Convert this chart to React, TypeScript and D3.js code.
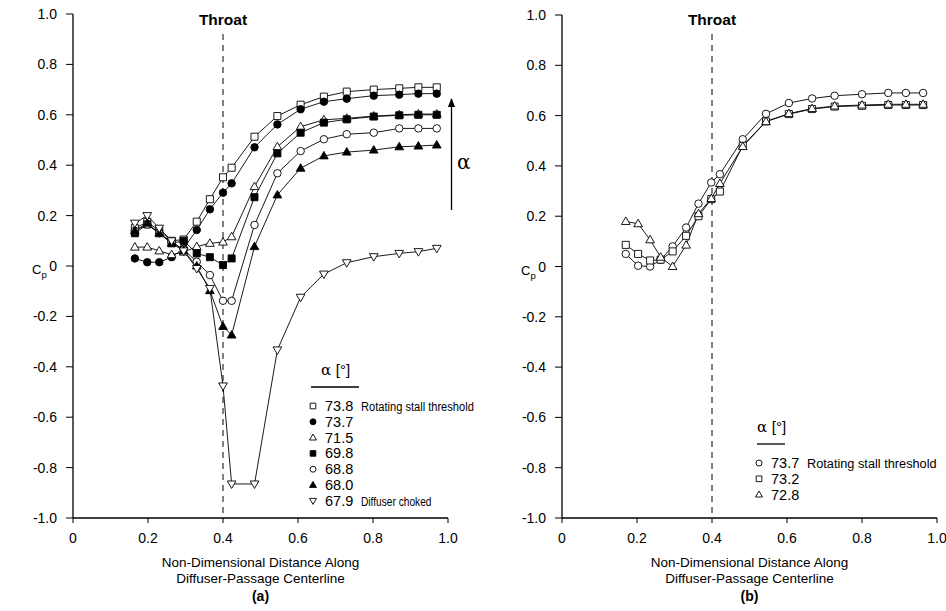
import React from "react";
import * as d3 from "d3";

// ---------- Data ----------
const xTicks = [0, 0.2, 0.4, 0.6, 0.8, 1.0];
const xTickLabels = ["0", "0.2", "0.4", "0.6", "0.8", "1.0"];
const yTicks = [1.0, 0.8, 0.6, 0.4, 0.2, 0, -0.2, -0.4, -0.6, -0.8, -1.0];
const yTickLabels = ["1.0", "0.8", "0.6", "0.4", "0.2", "0", "-0.2", "-0.4", "-0.6", "-0.8", "-1.0"];

const xA = [0.165, 0.198, 0.23, 0.263, 0.295, 0.33, 0.365, 0.4, 0.423, 0.484, 0.545, 0.607, 0.669, 0.73, 0.802, 0.87, 0.921, 0.97];

const a738 = [0.15, 0.175, 0.14, 0.1, 0.105, 0.176, 0.265, 0.352, 0.39, 0.513, 0.595, 0.64, 0.672, 0.692, 0.7, 0.705, 0.709, 0.709];
const a737 = [0.03, 0.015, 0.015, 0.035, 0.07, 0.143, 0.225, 0.291, 0.328, 0.471, 0.562, 0.622, 0.652, 0.664, 0.676, 0.68, 0.684, 0.684];
const a715 = [0.075, 0.075, 0.06, 0.045, 0.055, 0.077, 0.09, 0.095, 0.116, 0.315, 0.473, 0.553, 0.58, 0.586, 0.595, 0.6, 0.603, 0.603];
const a698 = [0.13, 0.165, 0.13, 0.09, 0.1, 0.05, 0.035, 0.004, 0.03, 0.273, 0.447, 0.529, 0.569, 0.582, 0.593, 0.598, 0.6, 0.6];
const a688 = [0.14, 0.165, 0.13, 0.095, 0.065, 0.017, -0.036, -0.138, -0.138, 0.163, 0.368, 0.456, 0.503, 0.523, 0.529, 0.546, 0.546, 0.546];
const a680 = [0.14, 0.17, 0.13, 0.09, 0.06, 0.0, -0.098, -0.24, -0.274, 0.077, 0.282, 0.388, 0.437, 0.452, 0.46, 0.473, 0.476, 0.48];
const a679 = [0.17, 0.2, 0.15, 0.1, 0.06, -0.01, -0.089, -0.476, -0.865, -0.865, -0.333, -0.124, -0.032, 0.013, 0.037, 0.05, 0.057, 0.07];

const xB = [0.17, 0.203, 0.235, 0.263, 0.295, 0.331, 0.364, 0.398, 0.421, 0.482, 0.544, 0.605, 0.667, 0.727, 0.8, 0.87, 0.917, 0.963];
const b737 = [0.05, 0.003, 0.0, 0.027, 0.08, 0.155, 0.25, 0.334, 0.367, 0.506, 0.607, 0.65, 0.668, 0.679, 0.685, 0.69, 0.69, 0.69];
const b732 = [0.086, 0.05, 0.024, 0.027, 0.06, 0.122, 0.2, 0.268, 0.298, 0.48, 0.577, 0.606, 0.626, 0.636, 0.639, 0.642, 0.642, 0.642];
const b728 = [0.179, 0.17, 0.106, 0.037, 0.0, 0.085, 0.21, 0.27, 0.33, 0.477, 0.576, 0.608, 0.628, 0.638, 0.642, 0.645, 0.645, 0.645];

const legendA = [
  { num: "73.8", note: "Rotating stall threshold", sym: "square", fill: false, vals: a738 },
  { num: "73.7", note: "", sym: "circle", fill: true, vals: a737 },
  { num: "71.5", note: "", sym: "triangle", fill: false, vals: a715 },
  { num: "69.8", note: "", sym: "square", fill: true, vals: a698 },
  { num: "68.8", note: "", sym: "circle", fill: false, vals: a688 },
  { num: "68.0", note: "", sym: "triangle", fill: true, vals: a680 },
  { num: "67.9", note: "Diffuser choked", sym: "tridown", fill: false, vals: a679 },
];
const legendB = [
  { num: "73.7", note: "Rotating stall threshold", sym: "circle", fill: false, vals: b737 },
  { num: "73.2", note: "", sym: "square", fill: false, vals: b732 },
  { num: "72.8", note: "", sym: "triangle", fill: false, vals: b728 },
];

const FONT = "'Liberation Sans', Arial, Helvetica, sans-serif";

function markerPath(sym: string, s: number) {
  if (sym === "square") {
    const h = s * 0.47;
    return `M${-h},${-h}H${h}V${h}H${-h}Z`;
  }
  if (sym === "circle") {
    const r = s * 0.5;
    return `M${r},0A${r},${r} 0 1,1 ${-r},0A${r},${r} 0 1,1 ${r},0Z`;
  }
  const w = s * 0.58;
  const hgt = s * 1.0;
  if (sym === "triangle") {
    return `M0,${-hgt * 0.6}L${w},${hgt * 0.4}L${-w},${hgt * 0.4}Z`;
  }
  return `M0,${hgt * 0.6}L${w},${-hgt * 0.4}L${-w},${-hgt * 0.4}Z`;
}

function Marker({ x, y, sym, fill, size }: any) {
  return (
    <path
      d={markerPath(sym, size)}
      transform={`translate(${x},${y})`}
      fill={fill ? "#000" : "#fff"}
      stroke="#000"
      strokeWidth={0.9}
    />
  );
}

function Panel({ x0, x1, yTop, yBot, xs, series, label, legend }: any) {
  const x = d3.scaleLinear().domain([0, 1]).range([x0, x1]);
  const y = d3.scaleLinear().domain([-1, 1]).range([yBot, yTop]);
  const line = d3.line<number>().x((_d, i) => x(xs[i])).y((d) => y(d));
  const cx = (x0 + x1) / 2;
  return (
    <g fontFamily={FONT}>
      {/* axes */}
      <line x1={x0} x2={x0} y1={y(1)} y2={y(-1)} stroke="#000" strokeWidth={1.3} />
      <line x1={x0} x2={x(1)} y1={y(-1)} y2={y(-1)} stroke="#000" strokeWidth={1.3} />
      {yTicks.map((t, i) => (
        <g key={"y" + i}>
          <line x1={x0 - 7} x2={x0} y1={y(t)} y2={y(t)} stroke="#000" strokeWidth={1} />
          <text x={x0 - 16} y={y(t) + 5} fontSize={14} textAnchor="end">{yTickLabels[i]}</text>
        </g>
      ))}
      {xTicks.map((t, i) => (
        <g key={"x" + i}>
          <line x1={x(t)} x2={x(t)} y1={y(-1)} y2={y(-1) + 5} stroke="#000" strokeWidth={1} />
          <text x={x(t)} y={y(-1) + 25} fontSize={14} textAnchor="middle">{xTickLabels[i]}</text>
        </g>
      ))}
      <text x={x0 - 41} y={y(0) + 8} fontSize={13}>
        C<tspan fontSize={9.5} dy={4}>p</tspan>
      </text>
      <text x={cx} y={y(-1) + 49} fontSize={13.5} textAnchor="middle">Non-Dimensional Distance Along</text>
      <text x={cx} y={y(-1) + 65} fontSize={13.5} textAnchor="middle">Diffuser-Passage Centerline</text>
      <text x={cx} y={y(-1) + 83} fontSize={14} fontWeight="bold" textAnchor="middle">{label}</text>
      {/* throat */}
      <line x1={x(0.4)} x2={x(0.4)} y1={34} y2={y(-1)} stroke="#000" strokeWidth={1} strokeDasharray="6,5" />
      <text x={x(0.4)} y={25} fontSize={15.5} fontWeight="bold" textAnchor="middle">Throat</text>
      {/* series */}
      {series.map((s: any, i: number) => (
        <path key={"l" + i} d={line(s.vals) || ""} fill="none" stroke="#000" strokeWidth={0.9} />
      ))}
      {series.map((s: any, i: number) =>
        s.vals.map((v: number, j: number) => (
          <Marker key={"m" + i + "-" + j} x={x(xs[j])} y={y(v)} sym={s.sym} fill={s.fill} size={7.5} />
        ))
      )}
      {/* legend */}
      <g>
        <text x={legend.x + legend.ul / 2} y={legend.y} fontSize={15} textAnchor="middle" fontFamily="'DejaVu Serif', serif">
          α <tspan fontFamily={FONT}>[°]</tspan>
        </text>
        <line x1={legend.x - 1} x2={legend.x + legend.ul} y1={legend.y + 12} y2={legend.y + 12} stroke="#000" strokeWidth={1.3} />
        {series.map((s: any, i: number) => {
          const ry = legend.y + 31 + i * 15.8;
          return (
            <g key={"lg" + i}>
              <Marker x={legend.x + 1} y={ry} sym={s.sym} fill={s.fill} size={6} />
              <text x={legend.x + 13} y={ry + 5} fontSize={14.5}>{s.num}</text>
              {s.note ? (
                <text x={legend.x + 49} y={ry + 5} fontSize={12.5} textLength={s.note.length * legend.cw} lengthAdjust="spacingAndGlyphs">{s.note}</text>
              ) : null}
            </g>
          );
        })}
      </g>
    </g>
  );
}

export default function App() {
  return (
    <svg width={946} height={611} style={{ position: "absolute", left: 0, top: 0, background: "#fff" }}>
      <rect width={946} height={611} fill="#fff" />
      <Panel x0={73} x1={448} yTop={14} yBot={518} xs={xA} series={legendA} label="(a)" legend={{ x: 312, y: 375, ul: 47, cw: 4.7 }} />
      <Panel x0={562} x1={937} yTop={15} yBot={518} xs={xB} series={legendB} label="(b)" legend={{ x: 758, y: 432, ul: 27, cw: 5.4 }} />
      {/* alpha arrow */}
      <defs>
        <marker id="ah" viewBox="0 0 10 10" refX="9" refY="5" markerWidth="7" markerHeight="9" orient="auto">
          <path d="M0,1L10,5L0,9Z" fill="#000" />
        </marker>
      </defs>
      <line x1={451.5} x2={451.5} y1={210} y2={99} stroke="#000" strokeWidth={1.3} markerEnd="url(#ah)" />
      <text x={457} y={169} fontSize={20} fontFamily="'DejaVu Serif', serif">α</text>
    </svg>
  );
}
